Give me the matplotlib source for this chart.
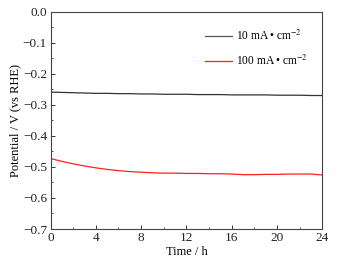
import matplotlib
matplotlib.use("Agg")
import matplotlib.pyplot as plt
from matplotlib.ticker import MultipleLocator

plt.rcParams['font.family'] = ['Liberation Serif', 'DejaVu Serif']
plt.rcParams['mathtext.fontset'] = 'stix'

time_h = [0, 1, 2, 3, 4, 5, 6, 7, 8, 9, 10, 11, 12, 13, 14, 15, 16, 17, 18, 19, 20, 21, 22, 23, 24]
pot_10 = [-0.259, -0.260, -0.261, -0.262, -0.263, -0.263, -0.264, -0.264, -0.265, -0.265, -0.266,
          -0.266, -0.266, -0.267, -0.267, -0.267, -0.268, -0.268, -0.268, -0.268, -0.269, -0.269,
          -0.269, -0.270, -0.270]
pot_100 = [-0.473, -0.482, -0.490, -0.497, -0.503, -0.508, -0.512, -0.515, -0.517, -0.519, -0.520,
           -0.520, -0.521, -0.521, -0.522, -0.522, -0.523, -0.525, -0.525, -0.524, -0.524, -0.523,
           -0.523, -0.523, -0.526]
labels = ["10 mA\u2009\u2022\u2009cm$^{-2}$", "100 mA\u2009\u2022\u2009cm$^{-2}$"]

fig = plt.figure(figsize=(3.37, 2.65), dpi=100)
ax = fig.add_axes([50.5/337, 1 - 229/265, (322.3-50.5)/337, (229-11.7)/265])
ax.plot(time_h, pot_10, color='#333333', lw=0.9, label=labels[0])
ax.plot(time_h, pot_100, color='#ff2020', lw=0.9, label=labels[1])

ax.set_xlim(0, 24)
ax.set_ylim(-0.7, 0.0)
ax.xaxis.set_major_locator(MultipleLocator(4))
ax.xaxis.set_minor_locator(MultipleLocator(2))
ax.yaxis.set_major_locator(MultipleLocator(0.1))
ax.yaxis.set_minor_locator(MultipleLocator(0.05))
ax.tick_params(which='both', direction='in', labelsize=9.5, colors='#333333', labelcolor='#222222')
ax.tick_params(which='major', length=3, width=0.7, pad=2.5)
ax.tick_params(which='minor', length=1.5, width=0.6)
ax.set_yticks([0.0, -0.1, -0.2, -0.3, -0.4, -0.5, -0.6, -0.7])
ax.set_yticklabels(["0.0", "\u22120.1", "\u22120.2", "\u22120.3", "\u22120.4", "\u22120.5", "\u22120.6", "\u22120.7"])
for s in ax.spines.values():
    s.set_color('#444444')
    s.set_linewidth(0.8)
ax.set_xlabel("Time / h", fontsize=9, labelpad=1)
ax.set_ylabel("Potential / V (vs RHE)", fontsize=9, labelpad=1)
leg = ax.legend(loc='upper right', frameon=False, fontsize=8.3, handlelength=2.3,
                bbox_to_anchor=(0.985, 0.97), labelspacing=0.9, handletextpad=0.4)
leg.get_lines()[0].set_color('#555555')

fig.savefig("out.png", dpi=100)
